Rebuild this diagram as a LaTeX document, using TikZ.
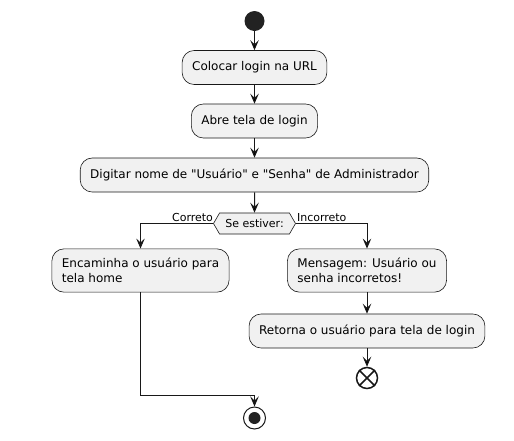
\documentclass[tikz,border=0pt]{standalone}
\usepackage{fontspec}
\setmainfont{DejaVu Sans}
\usetikzlibrary{arrows.meta,positioning,shapes.symbols}

\definecolor{boxfill}{HTML}{F1F1F1}
\definecolor{boxline}{HTML}{181818}
\definecolor{dotfill}{HTML}{222222}

\begin{document}
\begin{tikzpicture}[x=1pt,y=-1pt,on grid,node distance=54pt,
	acao/.style={rectangle,rounded corners=12pt,draw=boxline,fill=boxfill,line width=0.6pt,
		inner xsep=10pt,inner ysep=9.5pt,minimum height=34pt,align=left,
		font=\fontsize{12}{14.5}\selectfont},
	escolha/.style={signal,signal to=west and east,signal pointer angle=120,draw=boxline,
		fill=boxfill,line width=0.6pt,minimum width=82pt,minimum height=21pt,inner sep=1pt,
		font=\fontsize{11}{13}\selectfont},
	rotulo/.style={inner sep=0pt,font=\fontsize{11}{13}\selectfont},
	fluxo/.style={draw=boxline,line width=1pt,-{Stealth[length=10pt,width=8.5pt,inset=4pt]}}]

	\useasboundingbox (0,0) rectangle (514,440);

	\node[circle,fill=dotfill,minimum size=20pt,inner sep=0pt] (inicio) at (254.5,21) {};
	\node[acao] (url) [below=46.5pt of inicio] {Colocar login na URL};
	\node[acao] (tela) [below=53.5pt of url] {Abre tela de login};
	\node[acao] (digitar) [below=of tela] {Digitar nome de \textquotedbl Usuário\textquotedbl{} e \textquotedbl Senha\textquotedbl{} de Administrador};
	\node[escolha] (se) [below=48.5pt of digitar] {Se estiver:};
	\node[acao] (home) [below left=47pt and 114pt of se] {Encaminha o usuário para\\tela home};
	\node[acao] (msg) [below right=47pt and 112.5pt of se] {Mensagem: Usuário ou\\senha incorretos!};
	\node[acao] (retorna) [below=60.5pt of msg] {Retorna o usuário para tela de login};
	\node[circle,draw=boxline,line width=1.5pt,minimum size=21pt,inner sep=0pt] (fim) [below=47pt of retorna] {};
	\node[circle,draw=boxline,line width=1pt,minimum size=22pt,inner sep=0pt] (parada) [below=194.5pt of se] {};
	\fill[dotfill] (parada) circle (6pt);
	\draw[boxline,line width=1.5pt] (fim.north west) -- (fim.south east)
		(fim.north east) -- (fim.south west);
	\coordinate (juncao) at (home.center |- 0,395);

	\path[fluxo]
		(inicio) edge (url)
		(url) edge (tela)
		(tela) edge (digitar)
		(digitar) edge (se)
		(msg) edge (retorna)
		(retorna) edge (fim);
	\draw[fluxo] (se.west) -| (home.north);
	\draw[fluxo] (se.east) -| (msg.north);
	\draw[fluxo] (home.south) -- (juncao) -| (parada.north);

	\node[rotulo,anchor=base east] (correto) at ([yshift=2pt]se.west) {Correto};
	\node[rotulo,anchor=base west] (incorreto) at ([xshift=1pt,yshift=2pt]se.east) {Incorreto};

\end{tikzpicture}
\end{document}
